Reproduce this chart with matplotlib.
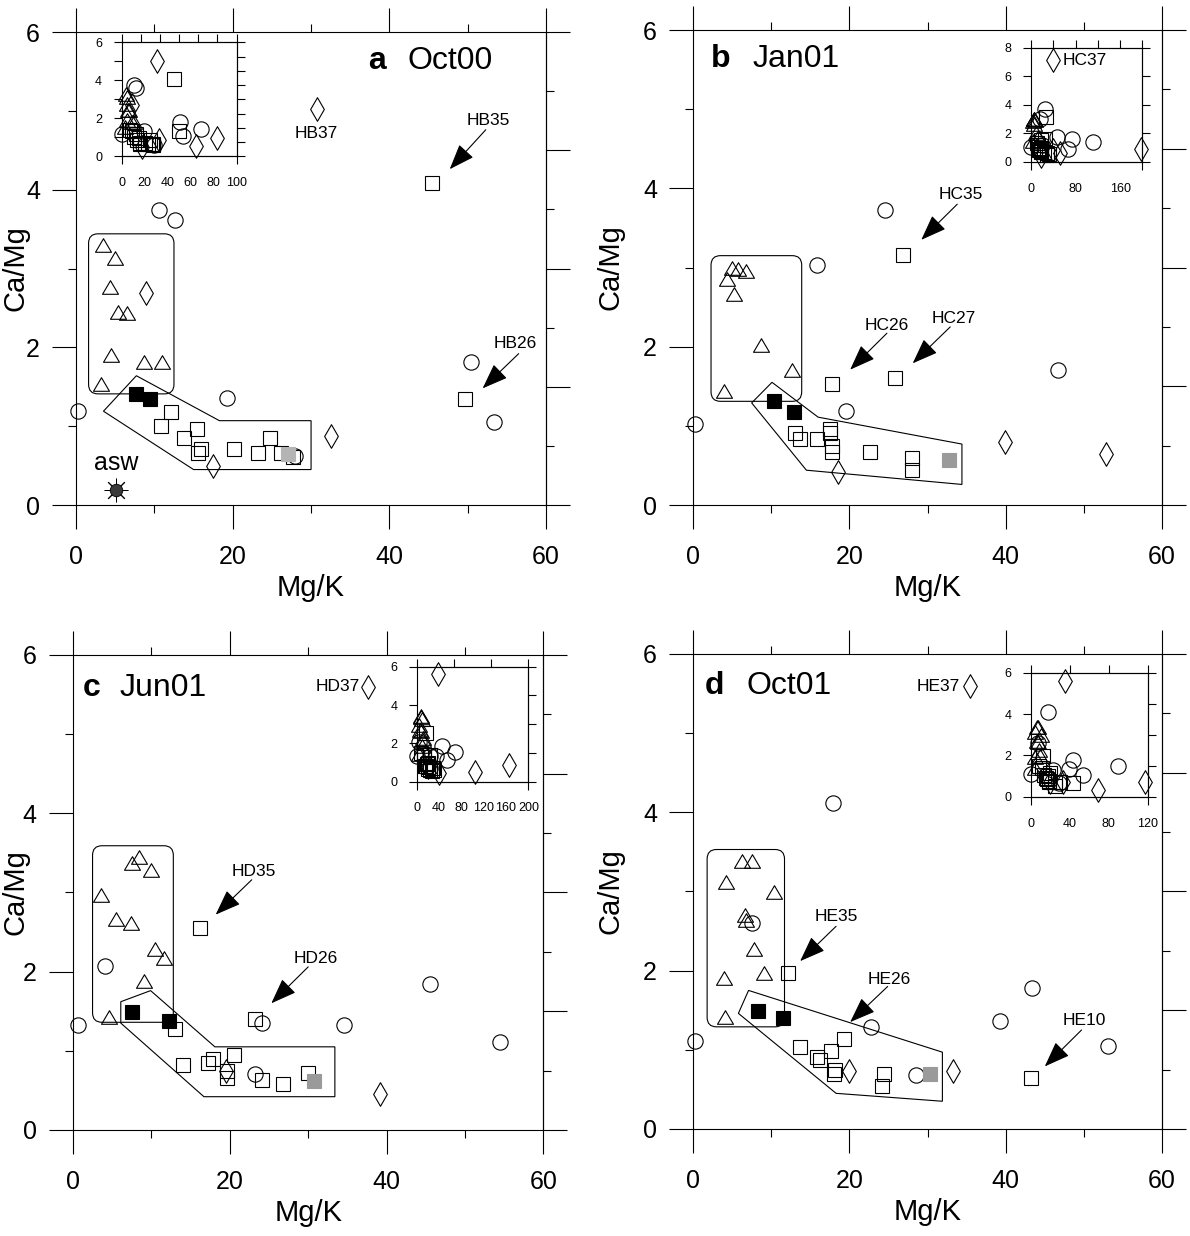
import numpy as np
import matplotlib
matplotlib.use("Agg")
import matplotlib.pyplot as plt
from matplotlib.path import Path
from matplotlib.patches import FancyBboxPatch, Polygon
from matplotlib.ticker import NullFormatter

plt.rcParams['font.family'] = ['Liberation Sans', 'DejaVu Sans']

# ---------------- data: panel a (Oct00) ----------------
a_tri_x = [3.5, 5.0, 4.3, 5.3, 6.5, 4.4, 8.7, 11.0, 3.2]
a_tri_y = [3.30, 3.13, 2.77, 2.45, 2.44, 1.90, 1.81, 1.82, 1.53]
a_circ_x = [10.6, 12.6, 0.3, 19.3, 50.4, 53.4, 27.9, 69.0]
a_circ_y = [3.74, 3.61, 1.19, 1.36, 1.81, 1.05, 0.62, 1.44]
a_sq_x = [45.4, 12.1, 10.8, 13.8, 15.5, 15.9, 15.6, 20.1, 23.2, 24.7, 26.2, 27.7, 49.7]
a_sq_y = [4.09, 1.18, 1.00, 0.85, 0.97, 0.71, 0.66, 0.71, 0.66, 0.85, 0.66, 0.61, 1.34]
a_diam_x = [30.7, 8.9, 17.5, 32.6, 65.0, 83.0]
a_diam_y = [5.02, 2.69, 0.49, 0.88, 0.53, 0.96]
a_black_x = [7.6, 9.4]
a_black_y = [1.41, 1.34]
a_gray_x = [27.1]
a_gray_y = [0.65]
asw_x = [5.1]
asw_y = [0.19]

# ---------------- data: panel b (Jan01) ----------------
b_tri_x = [5.0, 5.7, 6.8, 4.4, 5.2, 8.7, 12.7, 4.0]
b_tri_y = [2.99, 2.98, 2.96, 2.86, 2.67, 2.02, 1.71, 1.44]
b_circ_x = [24.5, 15.9, 0.3, 19.6, 46.7, 112.0, 73.0, 67.0]
b_circ_y = [3.73, 3.03, 1.02, 1.19, 1.70, 1.40, 1.59, 0.89]
b_sq_x = [26.9, 17.8, 25.9, 13.0, 13.7, 15.9, 17.5, 17.5, 17.8, 17.8, 22.7, 28.0, 28.0]
b_sq_y = [3.16, 1.53, 1.60, 0.91, 0.84, 0.83, 0.96, 0.91, 0.74, 0.67, 0.67, 0.60, 0.44]
b_diam_x = [18.5, 39.9, 52.8, 40.0, 198.0]
b_diam_y = [0.42, 0.80, 0.64, 7.13, 0.89]
b_black_x = [10.4, 12.9]
b_black_y = [1.31, 1.18]
b_gray_x = [32.7]
b_gray_y = [0.57]

# ---------------- data: panel c (Jun01) ----------------
c_tri_x = [8.4, 7.5, 10.0, 3.6, 5.5, 7.4, 10.5, 11.6, 9.1, 4.6]
c_tri_y = [3.45, 3.37, 3.28, 2.97, 2.67, 2.62, 2.28, 2.17, 1.88, 1.43]
c_circ_x = [4.1, 0.6, 24.1, 34.6, 45.5, 54.4, 23.2, 69.0]
c_circ_y = [2.07, 1.33, 1.35, 1.33, 1.84, 1.11, 0.71, 1.57]
c_sq_x = [16.2, 13.0, 23.2, 14.0, 17.2, 17.9, 20.5, 19.7, 19.7, 24.1, 26.8, 30.0]
c_sq_y = [2.55, 1.28, 1.40, 0.82, 0.84, 0.90, 0.95, 0.74, 0.65, 0.63, 0.58, 0.72]
c_diam_x = [37.6, 19.5, 39.1, 104.0, 165.0]
c_diam_y = [5.60, 0.74, 0.46, 0.49, 0.87]
c_black_x = [7.5, 12.3]
c_black_y = [1.49, 1.37]
c_gray_x = [30.8]
c_gray_y = [0.62]

# ---------------- data: panel d (Oct01) ----------------
d_tri_x = [6.2, 7.6, 4.2, 10.4, 6.8, 6.6, 7.8, 3.9, 9.1, 4.1]
d_tri_y = [3.38, 3.38, 3.12, 2.99, 2.64, 2.70, 2.27, 1.91, 1.97, 1.41]
d_circ_x = [17.9, 7.5, 0.2, 22.8, 28.5, 39.3, 43.4, 53.1, 89.0]
d_circ_y = [4.12, 2.60, 1.11, 1.29, 0.68, 1.36, 1.78, 1.05, 1.48]
d_sq_x = [12.1, 13.7, 19.3, 15.9, 16.3, 17.7, 18.2, 18.0, 24.4, 24.2, 43.2]
d_sq_y = [1.97, 1.04, 1.14, 0.91, 0.87, 0.98, 0.75, 0.70, 0.69, 0.54, 0.65]
d_diam_x = [35.4, 19.9, 33.3, 68.6, 117.0]
d_diam_y = [5.59, 0.73, 0.73, 0.32, 0.73]
d_black_x = [8.3, 11.5]
d_black_y = [1.49, 1.40]
d_gray_x = [30.3]
d_gray_y = [0.69]

# ---------------- panel titles / labels ----------------
panel_letters = ['a', 'b', 'c', 'd']
panel_names = ['Oct00', 'Jan01', 'Jun01', 'Oct01']
xlabel = 'Mg/K'
ylabel = 'Ca/Mg'

# ---------------- outlines (group envelopes) ----------------
a_rect = (1.6, 1.41, 12.5, 3.44)
a_poly = [(3.5, 1.19), (7.7, 1.64), (18.3, 1.07), (30.0, 1.07), (30.0, 0.45), (15.0, 0.45)]
b_rect = (2.3, 1.31, 13.9, 3.15)
b_poly = [(7.5, 1.29), (10.1, 1.55), (16.0, 1.11), (34.4, 0.77), (34.4, 0.26), (14.5, 0.44)]
c_rect = (2.5, 1.36, 12.8, 3.59)
c_poly = [(6.1, 1.62), (9.9, 1.76), (18.1, 1.05), (33.4, 1.05), (33.4, 0.42), (16.7, 0.42), (6.1, 1.35)]
d_rect = (1.8, 1.29, 11.7, 3.53)
d_poly = [(5.8, 1.46), (7.1, 1.75), (31.9, 0.97), (31.9, 0.35), (18.3, 0.45)]

# ---------------- annotations: (label, label xy, arrow tail, arrow head) ----------------
a_arrows = [('HB35', (52.6, 4.88), (52.3, 4.76), (47.7, 4.26)),
            ('HB26', (56.0, 2.05), (56.5, 1.92), (51.9, 1.48))]
b_arrows = [('HC35', (34.3, 3.92), (33.8, 3.80), (29.2, 3.35)),
            ('HC26', (24.8, 2.27), (24.8, 2.17), (20.1, 1.71)),
            ('HC27', (33.3, 2.35), (32.9, 2.25), (28.1, 1.79))]
c_arrows = [('HD35', (23.1, 3.26), (22.8, 3.16), (18.2, 2.72)),
            ('HD26', (30.9, 2.16), (30.0, 2.06), (25.3, 1.60))]
d_arrows = [('HE35', (18.3, 2.68), (18.3, 2.56), (13.7, 2.12)),
            ('HE26', (25.1, 1.89), (24.9, 1.80), (20.1, 1.35)),
            ('HE10', (50.0, 1.37), (49.7, 1.25), (45.0, 0.79))]

# ---------------- marker shapes ----------------
diamond = Path([(0, 1), (0.58, 0), (0, -1), (-0.58, 0), (0, 1)],
               [Path.MOVETO, Path.LINETO, Path.LINETO, Path.LINETO, Path.CLOSEPOLY])
triangle = Path([(0, 0.85), (1, -0.85), (-1, -0.85), (0, 0.85)],
                [Path.MOVETO, Path.LINETO, Path.LINETO, Path.CLOSEPOLY])

LW = 0.8
panels = [
    dict(tri=(a_tri_x, a_tri_y), circ=(a_circ_x, a_circ_y), sq=(a_sq_x, a_sq_y),
         diam=(a_diam_x, a_diam_y), black=(a_black_x, a_black_y), gray=(a_gray_x, a_gray_y),
         rect=a_rect, poly=a_poly, arrows=a_arrows, gray_col='#b4b4b4',
         pos=[0.0639, 0.5914, 0.3950, 0.3827], ylab_x=-0.128,
         inset=[0.1022, 0.8735, 0.0966, 0.0922], ixlim=100, iylim=6,
         ixt=[0, 20, 40, 60, 80, 100], iyt=[0, 2, 4, 6], iyminor=[1, 3, 5],
         itop=list(np.arange(0, 100.1, 100 / 6)), iright=list(np.arange(0, 6.01, 0.75)),
         title_x=(37.3, 42.3), title_y=5.63),
    dict(tri=(b_tri_x, b_tri_y), circ=(b_circ_x, b_circ_y), sq=(b_sq_x, b_sq_y),
         diam=(b_diam_x, b_diam_y), black=(b_black_x, b_black_y), gray=(b_gray_x, b_gray_y),
         rect=b_rect, poly=b_poly, arrows=b_arrows, gray_col='#9a9a9a',
         pos=[0.5824, 0.5914, 0.3941, 0.3843], ylab_x=-0.175,
         inset=[0.8664, 0.8692, 0.0936, 0.0922], ixlim=200, iylim=8,
         ixt=[0, 80, 160], iyt=[0, 2, 4, 6, 8], iyminor=[],
         itop=[0, 40, 80, 120, 160, 200], iright=[0, 2, 4, 6, 8],
         title_x=(2.3, 7.6), title_y=5.64),
    dict(tri=(c_tri_x, c_tri_y), circ=(c_circ_x, c_circ_y), sq=(c_sq_x, c_sq_y),
         diam=(c_diam_x, c_diam_y), black=(c_black_x, c_black_y), gray=(c_gray_x, c_gray_y),
         rect=c_rect, poly=c_poly, arrows=c_arrows, gray_col='#9a9a9a',
         pos=[0.0613, 0.0858, 0.3954, 0.3843], ylab_x=-0.122,
         inset=[0.3502, 0.3676, 0.0938, 0.0930], ixlim=200, iylim=6,
         ixt=[0, 40, 80, 120, 160, 200], iyt=[0, 2, 4, 6], iyminor=[],
         itop=list(np.arange(0, 200.1, 200 / 3)), iright=[0, 1.5, 3, 4.5, 6],
         title_x=(1.2, 6.0), title_y=5.58),
    dict(tri=(d_tri_x, d_tri_y), circ=(d_circ_x, d_circ_y), sq=(d_sq_x, d_sq_y),
         diam=(d_diam_x, d_diam_y), black=(d_black_x, d_black_y), gray=(d_gray_x, d_gray_y),
         rect=d_rect, poly=d_poly, arrows=d_arrows, gray_col='#9a9a9a',
         pos=[0.5824, 0.0866, 0.3941, 0.3843], ylab_x=-0.175,
         inset=[0.8664, 0.3554, 0.0980, 0.1003], ixlim=120, iylim=6,
         ixt=[0, 40, 80, 120], iyt=[0, 2, 4, 6], iyminor=[],
         itop=[0, 40, 80, 120], iright=[0, 1.5, 3, 4.5, 6],
         title_x=(1.55, 6.8), title_y=5.59),
]

fig = plt.figure(figsize=(11.9, 12.36), dpi=100)


def draw_points(ax, P, xmax, ymax, clip, filled):
    def sel(xs, ys):
        xs = np.asarray(xs, float); ys = np.asarray(ys, float)
        m = (xs <= xmax) & (ys <= ymax)
        return xs[m], ys[m]
    kw = dict(linestyle='none', mfc='none', mec='k', mew=LW, clip_on=clip, zorder=3)
    x, y = sel(*P['tri']); ax.plot(x, y, marker=triangle, ms=11.5, **kw)
    x, y = sel(*P['circ']); ax.plot(x, y, marker='o', ms=11, **kw)
    x, y = sel(*P['sq']); ax.plot(x, y, marker='s', ms=10.5, **kw)
    x, y = sel(*P['diam']); ax.plot(x, y, marker=diamond, ms=17, **kw)
    bx, by = sel(*P['black'])
    gx, gy = sel(*P['gray'])
    if filled:
        ax.plot(bx, by, marker='s', ms=10.5, linestyle='none', mfc='k', mec='k', mew=LW,
                clip_on=clip, zorder=4)
        ax.plot(gx, gy, marker='s', ms=10.5, linestyle='none', mfc=P['gray_col'],
                mec=P['gray_col'], mew=LW, clip_on=clip, zorder=4)
    else:
        ax.plot(bx, by, marker='s', ms=10.5, **kw)
        ax.plot(gx, gy, marker='s', ms=10.5, **kw)


for i, P in enumerate(panels):
    ax = fig.add_axes(P['pos'])
    ax.set_xlim(0, 60)
    ax.set_ylim(0, 6)
    for s in ax.spines.values():
        s.set_linewidth(LW)
    ax.set_xticks([0, 20, 40, 60])
    ax.set_xticks([10, 30, 50], minor=True)
    ax.set_yticks([0, 2, 4, 6])
    ax.set_yticks([1, 3, 5], minor=True)
    ax.tick_params(which='major', direction='out', length=17, width=LW, labelsize=18,
                   top=True, bottom=True, left=True, right=False)
    ax.tick_params(which='minor', direction='out', length=6, width=LW,
                   top=True, bottom=True, left=True, right=False)
    ax.tick_params(axis='x', which='major', pad=12)
    ax.tick_params(axis='y', which='major', pad=9)
    sec = ax.secondary_yaxis('right')
    sec.set_yticks([0, 1.5, 3, 4.5, 6])
    sec.set_yticks([0.75, 2.25, 3.75, 5.25], minor=True)
    sec.yaxis.set_major_formatter(NullFormatter())
    sec.tick_params(which='major', direction='out', length=17, width=LW)
    sec.tick_params(which='minor', direction='out', length=6, width=LW)
    sec.spines['right'].set_linewidth(LW)

    ax.set_xlabel(xlabel, fontsize=21)
    ax.xaxis.set_label_coords(0.5, -0.175)
    ax.xaxis.label.set_va('center')
    ax.set_ylabel(ylabel, fontsize=21)
    ax.yaxis.set_label_coords(P['ylab_x'], 0.5)
    ax.yaxis.label.set_va('center')

    # envelopes
    x0, y0, x1, y1 = P['rect']
    ax.add_patch(FancyBboxPatch((x0, y0), x1 - x0, y1 - y0,
                                boxstyle="round,pad=0,rounding_size=1.2",
                                mutation_aspect=0.1, fill=False, lw=LW, ec='k', zorder=2))
    ax.add_patch(Polygon(P['poly'], closed=True, fill=False, lw=LW, ec='k', zorder=2))

    draw_points(ax, P, 60, 6, False, True)

    # arrows and labels
    for lab, lxy, tail, head in P['arrows']:
        ax.annotate('', xy=head, xytext=tail,
                    arrowprops=dict(arrowstyle='-|>,head_length=0.8,head_width=0.3',
                                    mutation_scale=20, lw=LW, color='k',
                                    shrinkA=0, shrinkB=0))
        ax.text(lxy[0], lxy[1], lab, fontsize=12.5, ha='center', va='center')

    # title
    ax.text(P['title_x'][0], P['title_y'], panel_letters[i], fontsize=23,
            fontweight='bold', ha='left', va='center')
    ax.text(P['title_x'][1], P['title_y'], panel_names[i], fontsize=23,
            ha='left', va='center')

    # panel specific labels
    if i == 0:
        ax.text(30.7, 4.71, 'HB37', fontsize=12.5, ha='center', va='center')
        ax.plot(asw_x, asw_y, linestyle='none', marker=(8, 2, 0), ms=17, mec='k',
                mew=0.7, clip_on=False, zorder=4)
        ax.plot(asw_x, asw_y, linestyle='none', marker='o', ms=9, mfc='#3a3a3a',
                mec='k', mew=0.6, clip_on=False, zorder=5)
        ax.text(asw_x[0], 0.53, 'asw', fontsize=18, ha='center', va='center')
    if i == 2:
        ax.text(36.6, 5.60, 'HD37', fontsize=12.5, ha='right', va='center')
    if i == 3:
        ax.text(34.2, 5.59, 'HE37', fontsize=12.5, ha='right', va='center')

    # inset with full data range
    ia = fig.add_axes(P['inset'])
    ia.set_facecolor('white')
    ia.set_xlim(0, P['ixlim'])
    ia.set_ylim(0, P['iylim'])
    for s in ia.spines.values():
        s.set_linewidth(LW)
    ia.set_xticks(P['ixt'])
    ia.set_yticks(P['iyt'])
    if P['iyminor']:
        ia.set_yticks(P['iyminor'], minor=True)
    ia.tick_params(which='both', direction='out', length=6, width=LW, labelsize=9,
                   bottom=False, top=False, left=True, right=False)
    ia.tick_params(axis='x', pad=9)
    ia.tick_params(axis='y', pad=8)
    st = ia.secondary_xaxis('top')
    st.set_xticks(P['itop'])
    st.xaxis.set_major_formatter(NullFormatter())
    st.tick_params(direction='out', length=6, width=LW)
    st.spines['top'].set_linewidth(LW)
    sb = ia.secondary_xaxis('bottom')
    sb.set_xticks([0, P['ixlim']])
    sb.xaxis.set_major_formatter(NullFormatter())
    sb.tick_params(direction='out', length=6, width=LW)
    sr = ia.secondary_yaxis('right')
    sr.set_yticks(P['iright'])
    sr.yaxis.set_major_formatter(NullFormatter())
    sr.tick_params(direction='out', length=6, width=LW)
    sr.spines['right'].set_linewidth(LW)
    draw_points(ia, P, P['ixlim'], P['iylim'], False, False)
    if i == 1:
        ia.text(56, 7.13, 'HC37', fontsize=12.5, ha='left', va='center')

fig.savefig('out.png', dpi=100)
